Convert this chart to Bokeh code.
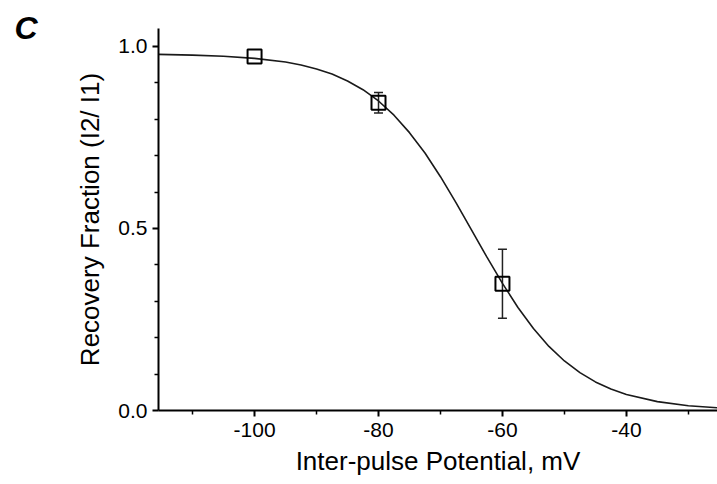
from bokeh.plotting import figure
from bokeh.models import (Range1d, FixedTicker, PrintfTickFormatter, ColumnDataSource,
                          Whisker, TeeHead, Title)
from bokeh.embed import file_html
from bokeh.resources import INLINE

# ---- data ----
potential_mv = [-100, -80, -60]
recovery = [0.972, 0.845, 0.348]
recovery_err = [0.0, 0.028, 0.095]

# fitted (Boltzmann) curve
fit_mv = [-115.5, -110, -105, -100, -95, -92.5, -90, -87.5, -85, -82.5, -80, -77.5,
          -75, -72.5, -70, -67.5, -65, -62.5, -60, -57.5, -55, -52.5, -50, -47.5,
          -45, -42.5, -40, -35, -30, -25]
fit_rec = [0.978, 0.976, 0.973, 0.967, 0.957, 0.949, 0.938, 0.924, 0.905, 0.881, 0.850, 0.811,
           0.763, 0.707, 0.642, 0.571, 0.496, 0.421, 0.349, 0.283, 0.225, 0.176, 0.136, 0.104,
           0.0785, 0.0589, 0.044, 0.0243, 0.0132, 0.0072]

x_major = [-100, -80, -60, -40]
x_minor = [-110, -90, -70, -50, -30]
y_major = [0.0, 0.5, 1.0]
y_minor = [0.1, 0.2, 0.3, 0.4, 0.6, 0.7, 0.8, 0.9]

panel_letter = "C"
x_label = "Inter-pulse Potential, mV"
y_label = "Recovery Fraction (I2/ I1)"

FONT = "Liberation Sans"

p = figure(width=717, height=484, output_backend="svg", toolbar_location=None,
           x_range=Range1d(-115.5, -25.3), y_range=Range1d(0, 1.049),
           min_border_left=158, min_border_right=0, min_border_top=28, min_border_bottom=74)
p.outline_line_color = None
p.grid.visible = False
p.background_fill_color = "white"
p.border_fill_color = "white"

p.title = Title(text=panel_letter, align="left", offset=-144, standoff=-34,
                text_font=FONT, text_font_size="32px", text_font_style="bold italic",
                text_color="black")

for ax in (p.xaxis[0], p.yaxis[0]):
    ax.axis_line_width = 2
    ax.axis_line_color = "black"
    ax.major_tick_line_width = 2
    ax.minor_tick_line_width = 1.5
    ax.major_tick_out = 6
    ax.major_tick_in = 0
    ax.minor_tick_out = 4
    ax.minor_tick_in = 0
    ax.major_label_text_font = FONT
    ax.major_label_text_font_size = "21px"
    ax.major_label_text_color = "black"
    ax.axis_label_text_font = FONT
    ax.axis_label_text_font_size = "26px"
    ax.axis_label_text_font_style = "normal"
    ax.axis_label_text_color = "black"

p.xaxis.ticker = FixedTicker(ticks=x_major, minor_ticks=x_minor)
p.yaxis.ticker = FixedTicker(ticks=y_major, minor_ticks=y_minor)
p.xaxis.formatter = PrintfTickFormatter(format="%d")
p.yaxis.formatter = PrintfTickFormatter(format="%.1f")
p.xaxis.axis_label = x_label
p.yaxis.axis_label = y_label
p.xaxis.major_label_standoff = 6
p.yaxis.major_label_standoff = 5
p.xaxis.axis_label_standoff = 6
p.yaxis.axis_label_standoff = 10

# fitted curve
p.line(fit_mv, fit_rec, line_color="#1a1a1a", line_width=1.6)

# error bars (only where visible)
ex = [v for v, e in zip(potential_mv, recovery_err) if e > 0]
ey = [r for r, e in zip(recovery, recovery_err) if e > 0]
ee = [e for e in recovery_err if e > 0]
err_src = ColumnDataSource(data=dict(
    x=ex, upper=[a + b for a, b in zip(ey, ee)], lower=[a - b for a, b in zip(ey, ee)]))
p.add_layout(Whisker(source=err_src, base="x", upper="upper", lower="lower",
                     line_color="#222222", line_width=1.5,
                     upper_head=TeeHead(size=9, line_width=1.5, line_color="#222222"),
                     lower_head=TeeHead(size=9, line_width=1.5, line_color="#222222")))

# data points
p.scatter(potential_mv, recovery, marker="square", size=14, fill_color=None,
          line_color="black", line_width=2)

open("out.html", "w").write(file_html(p, INLINE))
